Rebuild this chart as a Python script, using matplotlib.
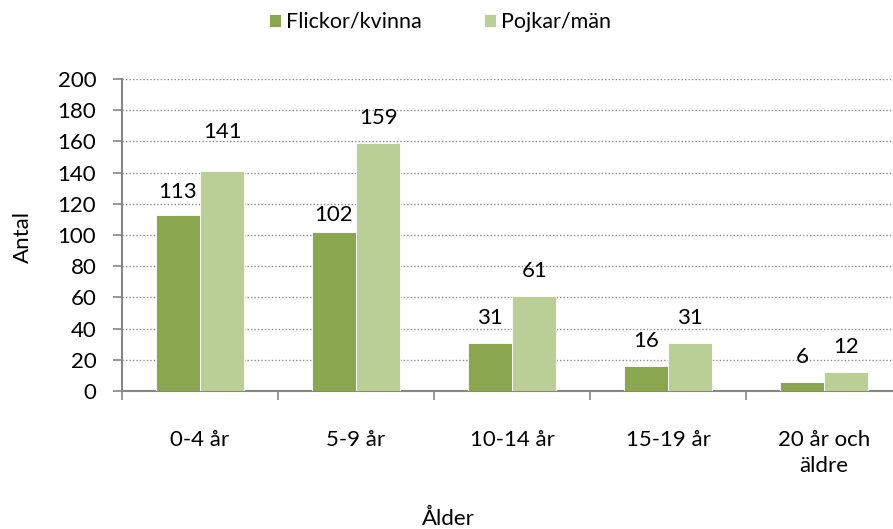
import matplotlib
matplotlib.use("Agg")
import matplotlib.pyplot as plt
import numpy as np

plt.rcParams['font.family'] = ['Lato', 'DejaVu Sans']

# Data
kategorier = ["0-4 år", "5-9 år", "10-14 år", "15-19 år", "20 år och\näldre"]
flickor = [113, 102, 31, 16, 6]
pojkar = [141, 159, 61, 31, 12]

# label offsets above the bar (px), as placed in the original
off_f = [17, 11, 19, 19, 19]
off_p = [33, 19, 19, 19, 19]

farg_f = "#8AA64E"
farg_p = "#BACF96"
grå = "#868686"
fs = 16
fs_leg = 15.5

fig = plt.figure(figsize=(8.93, 5.29), dpi=100)
# axes: left 122px, right ~902px (past the figure edge), top 79px, bottom 391px
ax = fig.add_axes([122 / 893, (529 - 391) / 529, 780 / 893, 312 / 529])

x = np.arange(len(kategorier))
b = 0.285
r1 = ax.bar(x - b / 2, flickor, b, color=farg_f, edgecolor="white", linewidth=0.6,
            label="Flickor/kvinna", zorder=3)
r2 = ax.bar(x + b / 2, pojkar, b, color=farg_p, edgecolor="white", linewidth=0.6,
            label="Pojkar/män", zorder=3)

for rects, vals, offs in [(r1, flickor, off_f), (r2, pojkar, off_p)]:
    for rect, v, o in zip(rects, vals, offs):
        ax.annotate(str(v), (rect.get_x() + rect.get_width() / 2, v),
                    xytext=(0, o * 0.72), textcoords="offset points",
                    ha="center", va="baseline", fontsize=fs, color="black", zorder=4)

ax.set_xlim(-0.5, len(kategorier) - 0.5)
ax.set_ylim(0, 200)
ax.set_yticks(range(0, 201, 20))
ax.yaxis.grid(True, linestyle=(0, (1, 1.5)), color="#8c8c8c", linewidth=1.0, zorder=0)

# category labels between boundary ticks
ax.set_xticks(x)
ax.set_xticklabels(kategorier, fontsize=fs, linespacing=1.4)
ax.tick_params(axis="x", length=0, pad=28)
ax.set_xticks(np.arange(len(kategorier)) - 0.5, minor=True)
ax.tick_params(axis="x", which="minor", length=6.5, color=grå, width=1.2)
ax.tick_params(axis="y", length=6.5, color=grå, width=1.2, labelsize=fs, direction="out", pad=12)

for s in ["top", "right"]:
    ax.spines[s].set_visible(False)
for s in ["left", "bottom"]:
    ax.spines[s].set_color(grå)
    ax.spines[s].set_linewidth(1.5)

fig.text(23 / 893, 1 - 237 / 529, "Antal", rotation=90, ha="center", va="center", fontsize=fs)
fig.text(448 / 893, 1 - 519 / 529, "Ålder", ha="center", va="center", fontsize=fs)

leg = fig.legend(handles=[r1, r2], loc="center", bbox_to_anchor=(440 / 893, 1 - 22 / 529),
                 ncol=2, frameon=False, fontsize=fs_leg, handlelength=0.55, handleheight=0.55,
                 handletextpad=0.25, columnspacing=2.9)

fig.savefig("out.png", dpi=100)
